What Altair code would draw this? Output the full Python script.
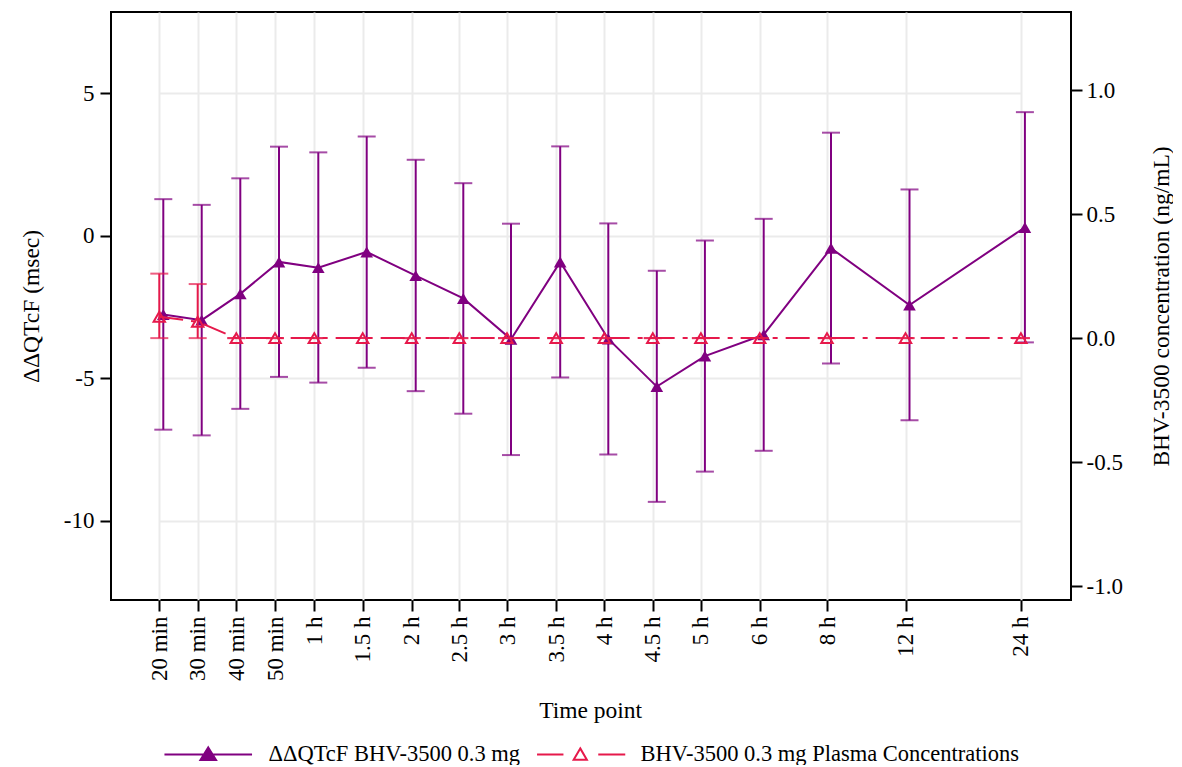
import altair as alt
import pandas as pd

# ---------------- data ----------------
time_minutes = [20, 30, 40, 50, 60, 90, 120, 150, 180, 210, 240, 270, 300, 360, 480, 720, 1440]
time_labels = ["20 min", "30 min", "40 min", "50 min", "1 h", "1.5 h", "2 h", "2.5 h", "3 h",
               "3.5 h", "4 h", "4.5 h", "5 h", "6 h", "8 h", "12 h", "24 h"]

qtc_mean = [-2.76, -2.96, -2.04, -0.92, -1.12, -0.57, -1.40, -2.20, -3.63,
            -0.92, -3.62, -5.29, -4.22, -3.47, -0.44, -2.43, 0.29]
qtc_lower = [-6.80, -7.00, -6.07, -4.95, -5.15, -4.63, -5.45, -6.24, -7.69,
             -4.97, -7.67, -9.33, -8.27, -7.54, -4.48, -6.47, -3.74]
qtc_upper = [1.28, 1.08, 2.01, 3.12, 2.92, 3.48, 2.66, 1.84, 0.42,
             3.13, 0.43, -1.23, -0.17, 0.59, 3.61, 1.62, 4.33]

conc_mean = [0.086, 0.066, 0, 0, 0, 0, 0, 0, 0, 0, 0, 0, 0, 0, 0, 0, 0]
conc_lower = [0.0, 0.0, 0, 0, 0, 0, 0, 0, 0, 0, 0, 0, 0, 0, 0, 0, 0]
conc_upper = [0.26, 0.218, 0, 0, 0, 0, 0, 0, 0, 0, 0, 0, 0, 0, 0, 0, 0]

series_names = ["ΔΔQTcF BHV-3500 0.3 mg", "BHV-3500 0.3 mg Plasma Concentrations"]

# ---------------- styling / scales ----------------
PURPLE = "#800080"
RED = "#E6194B"
FONT = "Liberation Serif"

# piecewise x scale (time axis in the original is not linear in time)
x_scale_range = [48.3, 86.7, 125.3, 164.0, 203.3, 251.7, 300.7, 348.3, 396.0,
                 445.2, 493.3, 541.8, 589.9, 648.7, 716.0, 794.5, 909.9]

df = pd.DataFrame({
    "minutes": time_minutes,
    "qtc_mean": qtc_mean, "qtc_lower": qtc_lower, "qtc_upper": qtc_upper,
    "conc_mean": conc_mean, "conc_lower": conc_lower, "conc_upper": conc_upper,
})

label_expr = " : ".join(f"datum.value == {m} ? '{l}'" for m, l in zip(time_minutes, time_labels)) + " : ''"
minus_fix = "replace(datum.label, '\u2212', '-')"

x_enc = alt.X(
    "minutes:Q",
    scale=alt.Scale(domain=time_minutes, range=x_scale_range, nice=False, zero=False),
    axis=alt.Axis(values=time_minutes, labelExpr=label_expr, title="Time point",
                  labelAngle=270, grid=True, titlePadding=18, labelPadding=5),
)

yl_scale = alt.Scale(domain=[-12.77, 7.84], nice=False, zero=False)
yr_scale = alt.Scale(domain=[-1.056, 1.315], nice=False, zero=False)
yl_axis = alt.Axis(values=[-10, -5, 0, 5], title="ΔΔQTcF (msec)", grid=True,
                   titlePadding=20, labelPadding=6, labelExpr=minus_fix)
yr_axis = alt.Axis(values=[-1.0, -0.5, 0.0, 0.5, 1.0], format=".1f", orient="right",
                   title="BHV-3500 concentration (ng/mL)", grid=False, titleAngle=270,
                   titlePadding=51, labelPadding=4, labelExpr=minus_fix)

base = alt.Chart(df)
OFF = 4

p_rule = base.mark_rule(color=PURPLE, strokeWidth=2, xOffset=OFF).encode(
    x=x_enc, y=alt.Y("qtc_lower:Q", scale=yl_scale, axis=yl_axis), y2="qtc_upper:Q")
p_lo = base.mark_tick(color=PURPLE, orient="horizontal", size=18, thickness=2, xOffset=OFF).encode(
    x=x_enc, y=alt.Y("qtc_lower:Q", scale=yl_scale, axis=yl_axis))
p_hi = base.mark_tick(color=PURPLE, orient="horizontal", size=18, thickness=2, xOffset=OFF).encode(
    x=x_enc, y=alt.Y("qtc_upper:Q", scale=yl_scale, axis=yl_axis))
p_line = base.mark_line(color=PURPLE, strokeWidth=2, xOffset=OFF).encode(
    x=x_enc, y=alt.Y("qtc_mean:Q", scale=yl_scale, axis=yl_axis))
p_pts = base.mark_point(shape="triangle-up", filled=True, color=PURPLE, size=160, opacity=1,
                        xOffset=OFF).encode(
    x=x_enc, y=alt.Y("qtc_mean:Q", scale=yl_scale, axis=yl_axis))
purple = alt.layer(p_rule, p_lo, p_hi, p_line, p_pts)

r_rule = base.mark_rule(color=RED, strokeWidth=2).encode(
    x=x_enc, y=alt.Y("conc_lower:Q", scale=yr_scale, axis=yr_axis), y2="conc_upper:Q")
r_lo = base.mark_tick(color=RED, orient="horizontal", size=18, thickness=2).encode(
    x=x_enc, y=alt.Y("conc_lower:Q", scale=yr_scale, axis=yr_axis))
r_hi = base.mark_tick(color=RED, orient="horizontal", size=18, thickness=2).encode(
    x=x_enc, y=alt.Y("conc_upper:Q", scale=yr_scale, axis=yr_axis))
r_line = base.mark_line(color=RED, strokeWidth=2, strokeDash=[24, 8, 5, 8]).encode(
    x=x_enc, y=alt.Y("conc_mean:Q", scale=yr_scale, axis=yr_axis))
r_pts = base.mark_point(shape="triangle-up", filled=False, color=RED, size=130, strokeWidth=2,
                        opacity=1).encode(
    x=x_enc, y=alt.Y("conc_mean:Q", scale=yr_scale, axis=yr_axis))
red = alt.layer(r_rule, r_lo, r_hi, r_line, r_pts)

# legend (custom symbols: line with triangle)
legend_paths = [
    "M-7.3,0H7.3M0,-1.15L1.3,0.95L-1.3,0.95Z",
    "M-7.2,0H-2.8M3,0H7.5M0,-1L1.1,0.9L-1.1,0.9Z",
]
leg_df = pd.DataFrame({"series": series_names})
leg = alt.Legend(orient="none", legendX=86, legendY=731, direction="horizontal", title=None,
                 symbolSize=144, labelOffset=49, columnPadding=12, padding=0,
                 labelFont=FONT, labelFontSize=22.5, labelColor="black", labelLimit=800,
                 symbolStrokeWidth=2, symbolOpacity=1)
legend_layer = alt.Chart(leg_df).mark_point(filled=True, opacity=0).encode(
    shape=alt.Shape("series:N", scale=alt.Scale(domain=series_names, range=legend_paths), legend=leg),
    stroke=alt.Stroke("series:N", scale=alt.Scale(domain=series_names, range=[PURPLE, RED]), legend=leg),
    fill=alt.Fill("series:N", scale=alt.Scale(domain=series_names, range=[PURPLE, "rgba(255,255,255,0)"]), legend=leg),
)

chart = alt.layer(purple, red, legend_layer).resolve_scale(y="independent").properties(
    width=960, height=588,
    autosize=alt.AutoSizeParams(type="none"),
    padding={"left": 103, "top": 4, "right": 102, "bottom": 165},
).configure_view(
    stroke="black", strokeWidth=2
).configure_axis(
    labelFont=FONT, labelFontSize=23, labelColor="black",
    titleFont=FONT, titleFontSize=23.5, titleFontWeight="normal", titleColor="black",
    tickColor="black", tickSize=11, tickWidth=2, domain=False,
    gridColor="#EBEBEB", gridWidth=2,
)

chart.save("out.html", embed_options={"renderer": "svg", "actions": False})
